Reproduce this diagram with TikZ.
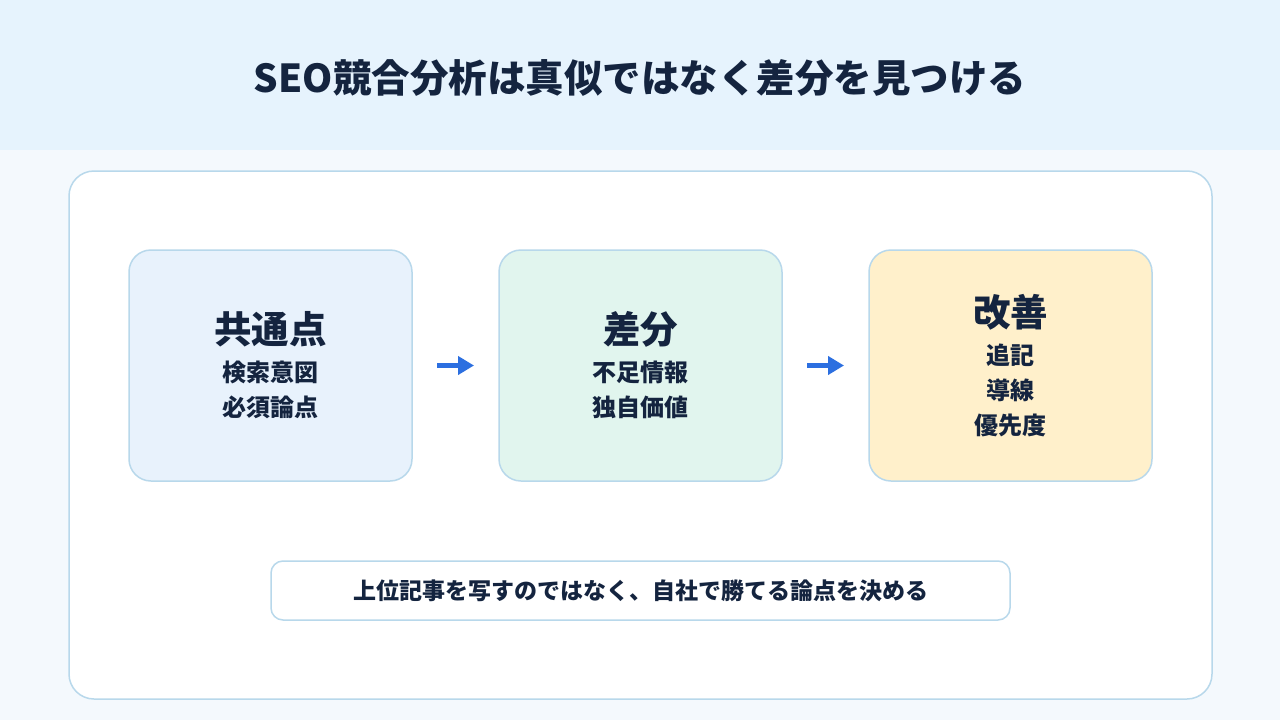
\documentclass[tikz,border=0pt]{standalone}
\usepackage{fontspec}
\setmainfont{Noto Sans CJK JP}
\usepackage{tikz}
\usetikzlibrary{positioning,arrows.meta}
\definecolor{headblue}{HTML}{E6F3FD}
\definecolor{pageblue}{HTML}{F4F9FD}
\definecolor{edgeblue}{HTML}{B8D8EB}
\definecolor{inkblue}{HTML}{14243F}
\definecolor{arrowblue}{HTML}{2C6FE0}
\definecolor{fillblue}{HTML}{E8F2FC}
\definecolor{fillgreen}{HTML}{E1F5EE}
\definecolor{fillyellow}{HTML}{FFF0CB}

\begin{document}
\begin{tikzpicture}[x=1pt, y=-1pt,
				stage/.style={draw=edgeblue, line width=1.5pt, outer sep=0pt, rounded corners=22pt, minimum width=283pt, minimum height=231pt, align=center, text=inkblue, font=\bfseries\fontsize{24}{35}\selectfont},
				flow/.style={draw=arrowblue, line width=4.5pt, -{Triangle[length=16pt,width=18pt]}, shorten <=25pt, shorten >=25pt},
				>=latex]
				% Hintergrund
				\useasboundingbox (0,0) rectangle (1280,720);
				\fill[pageblue] (0,0) rectangle (1280,720);
				\fill[headblue] (0,0) rectangle (1280,150);
				\node[text=inkblue, font=\bfseries\fontsize{38.5}{42}\selectfont] (title) at (640,78) {SEO競合分析は真似ではなく差分を見つける};
				% Panel
				\draw[edgeblue, fill=white, line width=1.5pt, rounded corners=25pt] (69,171) rectangle (1212,699);
				% Stufen
				\node[stage, fill=fillblue] (common) at (270.5,365.5) {{\fontsize{37.5}{38}\selectfont 共通点}\\[3pt] 検索意図\\ 必須論点};
				\node[stage, fill=fillgreen, right=87pt of common] (diff) {{\fontsize{37.5}{38}\selectfont 差分}\\[3pt] 不足情報\\ 独自価値};
				\node[stage, fill=fillyellow, right=87pt of diff] (improve) {{\fontsize{37.5}{38}\selectfont 改善}\\[3pt] 追記\\ 導線\\ 優先度};
				% Pfeile
				\draw[flow] (common) -- (diff);
				\draw[flow] (diff) -- (improve);
				% Fazit
				\node[draw=edgeblue, fill=white, line width=1.5pt, rounded corners=12pt, minimum width=739pt, minimum height=59pt, text=inkblue, font=\bfseries\fontsize{23}{26}\selectfont] (note) at (640.5,590.5) {上位記事を写すのではなく、自社で勝てる論点を決める};
			\end{tikzpicture}
\end{document}
